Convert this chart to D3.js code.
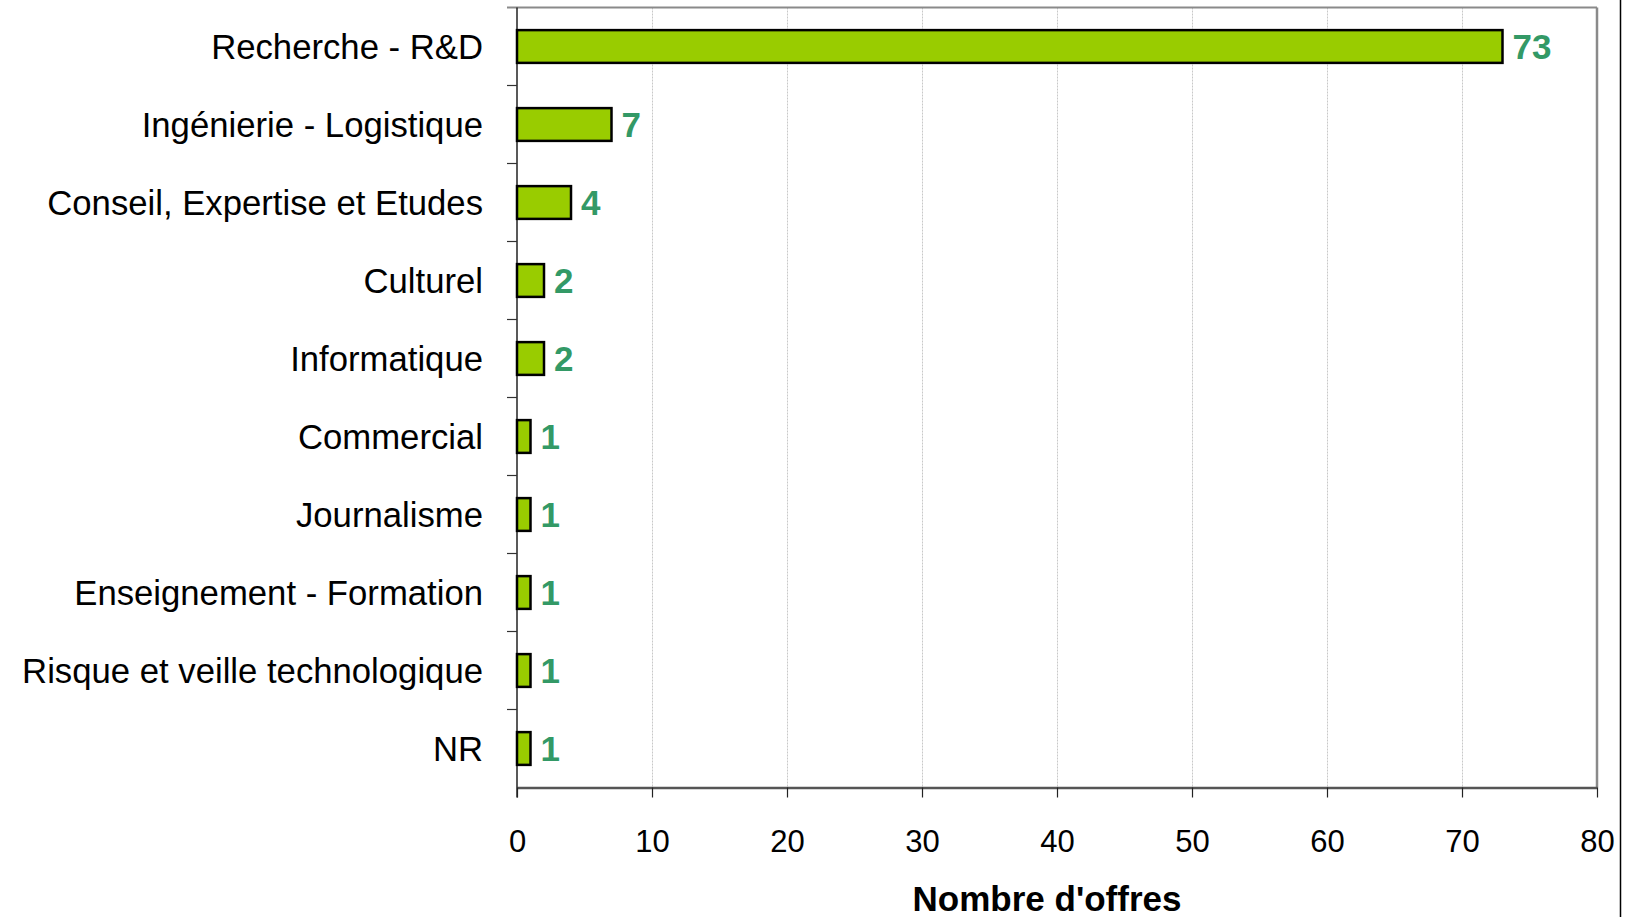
<!DOCTYPE html>
<html>
<head>
<meta charset="utf-8">
<script src="https://cdn.jsdelivr.net/npm/d3@7"></script>
<style>
  html, body { margin: 0; padding: 0; background: #fff; }
  svg { display: block; font-family: "Liberation Sans", Arial, sans-serif; }
</style>
</head>
<body>
<svg id="chart" width="1628" height="917"></svg>
<script>
// Job offers by sector
const categories = [
  "Recherche - R&D",
  "Ingénierie - Logistique",
  "Conseil, Expertise et Etudes",
  "Culturel",
  "Informatique",
  "Commercial",
  "Journalisme",
  "Enseignement - Formation",
  "Risque et veille technologique",
  "NR"
];
const offers = [73, 7, 4, 2, 2, 1, 1, 1, 1, 1];
const xTickValues = [0, 10, 20, 30, 40, 50, 60, 70, 80];
const xTitle = "Nombre d'offres";

(function drawChart() {
  const svg = d3.select("#chart");
  const plotLeft = 517, plotRight = 1597, plotTop = 7.5, plotBottom = 787.5;

  const x = d3.scaleLinear().domain([0, 80]).range([plotLeft, plotRight]);
  const y = d3.scaleBand().domain(categories).range([plotTop, plotBottom])
    .paddingInner(0.58).paddingOuter(0.29);

  // vertical gridlines
  svg.append("g").selectAll("line")
    .data(xTickValues.filter(v => v > 0 && v < 80))
    .join("line")
    .attr("x1", d => x(d) + 0.5).attr("x2", d => x(d) + 0.5)
    .attr("y1", plotTop).attr("y2", plotBottom)
    .attr("stroke", "#c8c8c8").attr("stroke-width", 1)
    .attr("stroke-dasharray", "2,1");

  // plot frame: top and right edges
  svg.append("line").attr("x1", plotLeft - 10).attr("x2", plotRight)
    .attr("y1", plotTop).attr("y2", plotTop)
    .attr("stroke", "#8a8a8a").attr("stroke-width", 2);
  svg.append("line").attr("x1", plotRight).attr("x2", plotRight)
    .attr("y1", plotTop).attr("y2", plotBottom)
    .attr("stroke", "#8a8a8a").attr("stroke-width", 2.5);

  // x axis
  const xAxis = d3.axisBottom(x).tickValues(xTickValues).tickSize(10).tickSizeOuter(0);
  const gx = svg.append("g").attr("transform", `translate(0,${plotBottom})`).call(xAxis);
  gx.select(".domain").attr("stroke", "#555").attr("stroke-width", 2.5);
  gx.selectAll(".tick line").attr("stroke", "#222").attr("stroke-width", 1.2);
  gx.selectAll(".tick text")
    .attr("font-family", "'Liberation Sans', Arial, sans-serif")
    .attr("font-size", 31).attr("fill", "#000").attr("dy", 0).attr("y", 64);

  // y axis line and boundary ticks
  const step = y.step();
  const boundaries = d3.range(categories.length + 1).map(i => plotTop + i * step);
  svg.append("line").attr("x1", plotLeft).attr("x2", plotLeft)
    .attr("y1", plotTop).attr("y2", plotBottom + 10)
    .attr("stroke", "#222").attr("stroke-width", 1.5);
  svg.append("g").selectAll("line").data(boundaries.slice(1, -1))
    .join("line")
    .attr("x1", plotLeft - 10).attr("x2", plotLeft)
    .attr("y1", d => d).attr("y2", d => d)
    .attr("stroke", "#333").attr("stroke-width", 1.2);

  // category labels
  svg.append("g").selectAll("text").data(categories)
    .join("text")
    .attr("x", 483)
    .attr("y", d => y(d) + y.bandwidth() / 2)
    .attr("dy", "0.36em")
    .attr("text-anchor", "end")
    .attr("font-size", 34.7)
    .attr("fill", "#000")
    .text(d => d);

  // bars
  const rows = categories.map((c, i) => ({ c, v: offers[i] }));
  svg.append("g").selectAll("rect").data(rows)
    .join("rect")
    .attr("x", x(0))
    .attr("y", d => y(d.c))
    .attr("width", d => x(d.v) - x(0))
    .attr("height", y.bandwidth())
    .attr("fill", "#99cc00")
    .attr("stroke", "#000")
    .attr("stroke-width", 2.5);

  // value labels
  svg.append("g").selectAll("text").data(rows)
    .join("text")
    .attr("x", d => x(d.v) + 10)
    .attr("y", d => y(d.c) + y.bandwidth() / 2)
    .attr("dy", "0.36em")
    .attr("font-size", 35)
    .attr("font-weight", "bold")
    .attr("fill", "#339966")
    .text(d => d.v);

  // axis title
  svg.append("text")
    .attr("x", 1047).attr("y", 911)
    .attr("text-anchor", "middle")
    .attr("font-size", 35).attr("font-weight", "bold")
    .attr("fill", "#000")
    .text(xTitle);

  // outer right border
  svg.append("line").attr("x1", 1620.5).attr("x2", 1620.5)
    .attr("y1", 0).attr("y2", 917)
    .attr("stroke", "#000").attr("stroke-width", 1.5);
})();
</script>
</body>
</html>
